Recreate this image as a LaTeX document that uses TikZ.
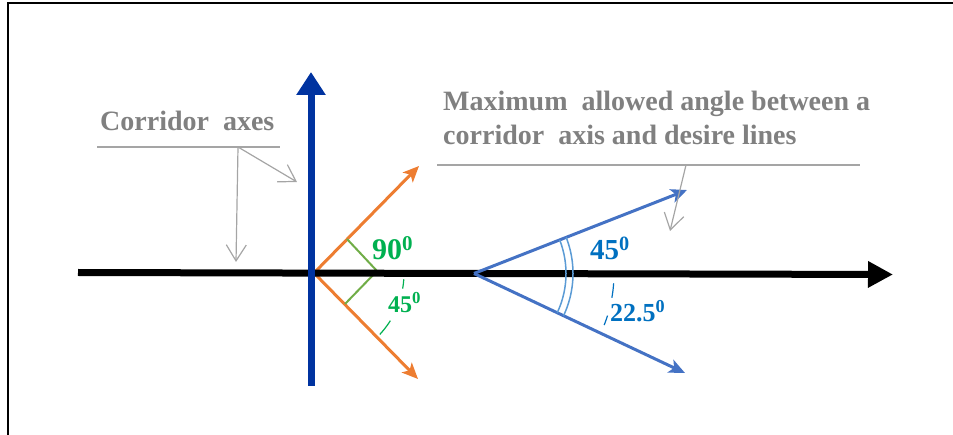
\documentclass[tikz,border=0pt]{standalone}
\usepackage{fontspec}
\setmainfont{Liberation Serif}
\usetikzlibrary{arrows.meta}
\definecolor{axisblue}{RGB}{0,51,160}
\definecolor{orangeln}{RGB}{237,125,49}
\definecolor{blueln}{RGB}{68,114,196}
\definecolor{lightblue}{RGB}{91,155,213}
\definecolor{greenmark}{RGB}{112,173,71}
\definecolor{greentxt}{RGB}{0,176,80}
\definecolor{bluetxt}{RGB}{0,112,192}
\definecolor{graytxt}{RGB}{128,128,128}
\definecolor{grayln}{RGB}{165,165,165}
\begin{document}
\begin{tikzpicture}[x=1pt,y=-1pt,
  lbl/.style={inner sep=0pt, anchor=base west, font=\bfseries},
  graylbl/.style={lbl, text=graytxt, font=\fontsize{28}{34}\selectfont\bfseries},
  leader/.style={draw=grayln, line width=1.2pt},
  leaderarrow/.style={leader, -{Straight Barb[length=16pt,width=20pt,line width=1.2pt]}},
  desire/.style={line width=3pt, -{Stealth[length=16pt,width=14pt,inset=4pt]}},
]
\useasboundingbox (0,0) rectangle (953,435);
% frame
\draw[line width=1.5pt] (8,435) -- (8,3) -- (953,3);

% coordinates
\coordinate (hL) at (78,272.5);
\coordinate (hR) at (893,274.5);
\coordinate (vB) at (311,386);
\coordinate (vT) at (311,72);
\coordinate (O) at (314,273);
\coordinate (oU) at (419,166);
\coordinate (oD) at (418,379);
\coordinate (B) at (474,273.5);
\coordinate (bU) at (687,190);
\coordinate (bD) at (685,373);

% desire lines (orange)
\draw[desire, draw=orangeln, fill=orangeln] (O) -- (oU);
\draw[desire, draw=orangeln, fill=orangeln] (O) -- (oD);

% right angle mark
\coordinate (g1) at (347,239);
\coordinate (g2) at (377,271);
\coordinate (g3) at (345,304);
\draw[greenmark, line width=2pt] (g1) -- (g2) -- (g3);

% horizontal corridor axis
\draw[line width=7pt, -{Triangle[length=25pt,width=25pt]}] (hL) -- (hR);
% vertical corridor axis
\draw[axisblue, line width=7pt, -{Triangle[length=23pt,width=28pt]}] (vB) -- (vT);

% desire lines (blue)
\draw[desire, draw=blueln, fill=blueln] (B) -- (bU);
\draw[desire, draw=blueln, fill=blueln] (B) -- (bD);

% double arc
\draw[lightblue, line width=1.5pt] plot[domain=-21.4:25.2, samples=40] ({474+92*cos(\x)}, {273.5+92*sin(\x)});
\draw[lightblue, line width=1.5pt] plot[domain=-21.4:25.2, samples=40] ({474+99*cos(\x)}, {273.5+99*sin(\x)});

% dashed arc pieces (green)
\draw[greentxt, line width=1.2pt] plot[domain=4:10, samples=10] ({314+90*cos(\x)}, {273+90*sin(\x)});
\draw[greentxt, line width=1.2pt] plot[domain=32:43, samples=10] ({314+90*cos(\x)}, {273+90*sin(\x)});
% dashed arc pieces (blue)
\draw[bluetxt, line width=1.2pt] plot[domain=4:10, samples=10] ({474+140*cos(\x)}, {273.5+140*sin(\x)});
\draw[bluetxt, line width=1.2pt] plot[domain=17.5:21.6, samples=10] ({474+140*cos(\x)}, {273.5+140*sin(\x)});

% angle labels
\node[lbl, text=greentxt, font=\fontsize{30}{30}\selectfont\bfseries] (t90) at (372,260) {90\textsuperscript{0}};
\node[lbl, text=greentxt, font=\fontsize{24}{24}\selectfont\bfseries] (t45g) at (388,313) {45\textsuperscript{0}};
\node[lbl, text=bluetxt, font=\fontsize{29}{29}\selectfont\bfseries] (t45b) at (590,260) {45\textsuperscript{0}};
\node[lbl, text=bluetxt, font=\fontsize{26}{26}\selectfont\bfseries] (t22) at (610,322) {22.5\textsuperscript{0}};

% gray labels
\node[graylbl] (ca) at (100,131) {Corridor\ \ axes};
\node[graylbl] (m1) at (443,111) {Maximum\ \ allowed angle between a};
\node[graylbl] (m2) at (443,145) {corridor\ \ axis and desire lines};

% leaders
\coordinate (u1a) at (97,147);
\coordinate (u1b) at (280,147);
\coordinate (u1m) at (238,147);
\coordinate (a1) at (236,262);
\coordinate (a2) at (297,182);
\draw[leader] (u1a) -- (u1b);
\draw[leaderarrow] (u1m) -- (a1);
\draw[leaderarrow] (u1m) -- (a2);

\coordinate (u2a) at (437,165);
\coordinate (u2b) at (860,165);
\coordinate (u2m) at (686,165);
\coordinate (a3) at (670,231);
\draw[leader] (u2a) -- (u2b);
\draw[leaderarrow] (u2m) -- (a3);
\end{tikzpicture}
\end{document}
